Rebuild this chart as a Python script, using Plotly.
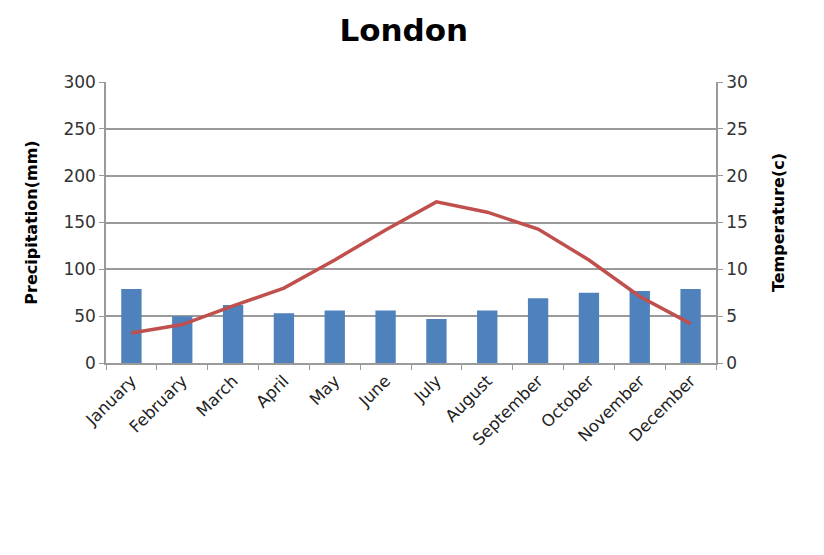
import plotly.graph_objects as go

months = ["January", "February", "March", "April", "May", "June", "July",
          "August", "September", "October", "November", "December"]
precip_mm = [79, 50, 62, 53, 56, 56, 47, 56, 69, 75, 77, 79]
temp_c = [3.2, 4.1, 6.1, 8.0, 11.0, 14.2, 17.2, 16.1, 14.3, 11.0, 7.1, 4.2]

FONT = "DejaVu Sans"
GRID = "#9a9a9a"
TXT = "#333333"

fig = go.Figure()
fig.add_trace(go.Bar(x=months, y=precip_mm, marker_color="#4F81BD",
                     marker_line_width=0, name="Precipitation", yaxis="y"))
fig.add_trace(go.Scatter(x=months, y=temp_c, mode="lines",
                         line=dict(color="#C0504D", width=3.5),
                         name="Temperature", yaxis="y2"))

fig.update_layout(
    width=824, height=555,
    margin=dict(l=106, r=108, t=82, b=192),
    paper_bgcolor="white", plot_bgcolor="white",
    showlegend=False,
    bargap=0.6,
    font=dict(family=FONT, color=TXT, size=14),
    title=dict(text="<b>London</b>", x=0.49, xanchor="center", y=0.945, yanchor="middle",
               font=dict(family=FONT, size=31, color="black")),
    xaxis=dict(type="category", tickangle=-45, tickson="boundaries",
               ticks="outside", ticklen=5, tickcolor=GRID,
               showline=True, linecolor=GRID, linewidth=1.5,
               showgrid=False, tickfont=dict(size=16.5, color="#222222")),
    yaxis=dict(range=[0, 300], dtick=50, ticks="outside", ticklen=5, tickcolor=GRID,
               showline=True, linecolor=GRID, linewidth=1.5,
               showgrid=True, gridcolor=GRID, gridwidth=1.5, zeroline=False,
               tickfont=dict(size=17, color=TXT),
               title=dict(text="<b>Precipitation(mm)</b>", standoff=22,
                          font=dict(size=16, color="black"))),
    yaxis2=dict(range=[0, 30], dtick=5, overlaying="y", side="right",
                ticks="outside", ticklen=5, tickcolor=GRID,
                showline=True, linecolor=GRID, linewidth=1.5,
                showgrid=False, zeroline=False,
                tickfont=dict(size=17, color=TXT),
                title=dict(text="<b>Temperature(c)</b>", standoff=26,
                           font=dict(size=16, color="black"))),
)

fig.write_html("out.html")
